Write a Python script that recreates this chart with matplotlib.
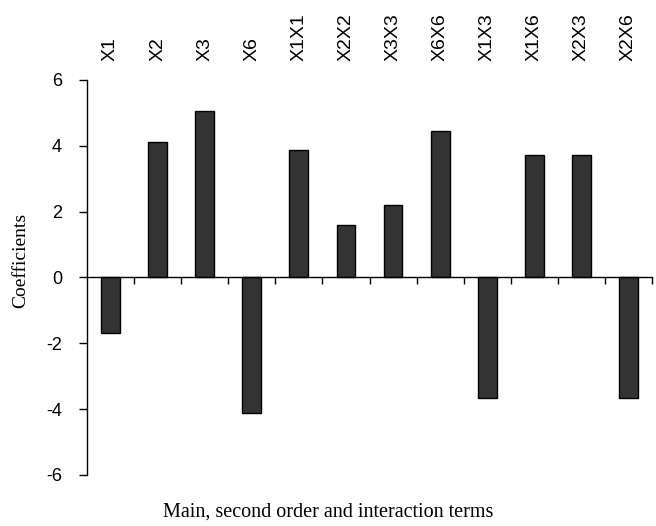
import matplotlib
matplotlib.use("Agg")
import matplotlib.pyplot as plt
import numpy as np

terms = ['X1', 'X2', 'X3', 'X6', 'X1X1', 'X2X2', 'X3X3', 'X6X6',
         'X1X3', 'X1X6', 'X2X3', 'X2X6']
coefs = [-1.68, 4.11, 5.07, -4.11, 3.88, 1.58, 2.20, 4.45,
         -3.67, 3.71, 3.71, -3.67]
yticks = [-6, -4, -2, 0, 2, 4, 6]

plt.rcParams['font.family'] = 'Liberation Sans'

fig = plt.figure(figsize=(6.56, 5.26), dpi=100)
ax = fig.add_axes([0.1326, 0.097, 0.8614, 0.751])

x = np.arange(len(terms))
ax.bar(x, coefs, width=0.4, color='#333333', edgecolor='black', linewidth=1, zorder=2)

ax.set_xlim(-0.5, len(terms) - 0.5)
ax.set_ylim(-6, 6)
ax.set_yticks(yticks)
ax.set_yticklabels([str(v) for v in yticks], fontsize=13)

# zero line with category boundary ticks pointing down
ax.spines['top'].set_visible(False)
ax.spines['right'].set_visible(False)
ax.spines['bottom'].set_position(('data', 0))
ax.spines['bottom'].set_zorder(3)
ax.spines['left'].set_linewidth(1)
ax.spines['bottom'].set_linewidth(1)

ax.set_xticks(x)
ax.set_xticklabels(terms, rotation=90, fontsize=14)
ax.set_xticks(np.arange(len(terms)) + 0.5, minor=True)
ax.tick_params(axis='x', which='major', bottom=False, top=True, length=0,
               labelbottom=False, labeltop=True, pad=14)
ax.tick_params(axis='x', which='minor', bottom=True, top=False,
               direction='out', length=5, width=1)
ax.tick_params(axis='y', direction='out', length=6, width=1, pad=12)

fig.text(0.032, 0.505, 'Coefficients', rotation=90, ha='center', va='center',
         family='Liberation Serif', fontsize=14)
fig.text(0.50, 0.027, 'Main, second order and interaction terms',
         ha='center', va='center', family='Liberation Serif', fontsize=14.5)

fig.savefig('out.png', dpi=100)
